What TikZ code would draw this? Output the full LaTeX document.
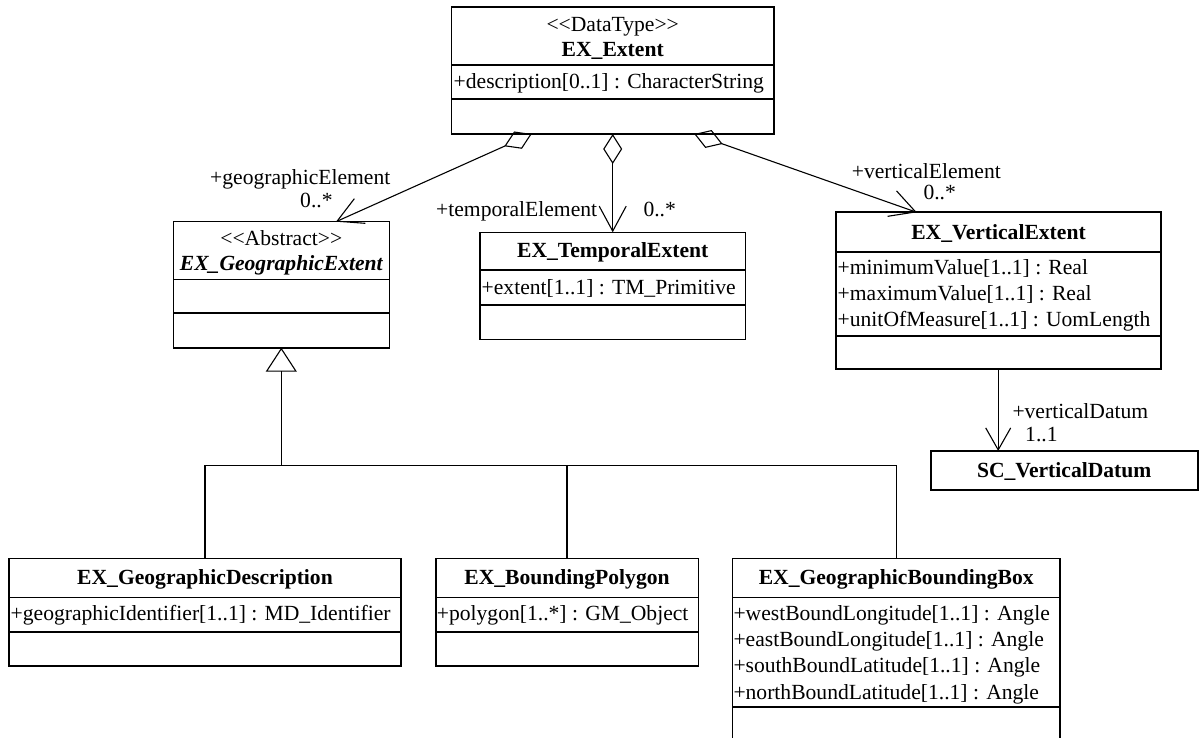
\documentclass[tikz,border=0pt]{standalone}
\usepackage{fontspec}
\setmainfont{Liberation Serif}
\usetikzlibrary{arrows.meta}
\newcommand{\lgl}{\textless\kern0pt\textless}
\newcommand{\rgr}{\textgreater\kern0pt\textgreater}
\begin{document}
\begin{tikzpicture}[x=1pt,y=-1pt,
  cls/.style={draw, line width=1.6pt, anchor=north west, inner sep=0pt, outer sep=0pt},
  dv/.style={line width=1.6pt},
  txt/.style={font=\fontsize{21.6}{26}\selectfont, inner sep=0pt, anchor=base},
  nm/.style={txt, font=\fontsize{21.6}{26}\selectfont\bfseries},
  att/.style={txt, anchor=base west},
  conn/.style={line width=1.1pt},
  agg/.style={conn, {Diamond[open,length=30pt,width=19pt]}-{Straight Barb[length=25pt,width=27pt]}},
  nav/.style={conn, -{Straight Barb[length=22pt,width=25pt]}},
  gen/.style={conn, -{Triangle[open,length=24pt,width=31pt]}},
]
\useasboundingbox (0,0) rectangle (1199,738);
\fill[white] (0,0) rectangle (1199,738);
\clip (0,0) rectangle (1199,738);

% ---------- EX_Extent ----------
\node[cls, minimum width=322.5pt, minimum height=127pt] (ext) at (451.5,7) {};
\draw[dv] (ext.west |- 0,65) -- (ext.east |- 0,65);
\draw[dv] (ext.west |- 0,99) -- (ext.east |- 0,99);
\node[txt] (extst) at (612.7,32) {\lgl DataType\rgr};
\node[nm] (extnm) at (612.7,56.7) {EX\_Extent};
\node[att] (exta1) at (453.5,89) {+description[0..1] : CharacterString};

% ---------- EX_GeographicExtent ----------
\node[cls, minimum width=216pt, minimum height=126pt] (geo) at (173.3,221.7) {};
\draw[dv] (geo.west |- 0,279.3) -- (geo.east |- 0,279.3);
\draw[dv] (geo.west |- 0,312.7) -- (geo.east |- 0,312.7);
\node[txt] (geost) at (281.3,245) {\lgl Abstract\rgr};
\node[nm, font=\fontsize{21.6}{26}\selectfont\bfseries\itshape] (geonm) at (281.3,270.7) {EX\_GeographicExtent};

% ---------- EX_TemporalExtent ----------
\node[cls, minimum width=265.5pt, minimum height=107pt] (tmp) at (480,232.3) {};
\draw[dv] (tmp.west |- 0,270) -- (tmp.east |- 0,270);
\draw[dv] (tmp.west |- 0,305) -- (tmp.east |- 0,305);
\node[nm] (tmpnm) at (612.7,257.7) {EX\_TemporalExtent};
\node[att] (tmpa1) at (481.5,294.5) {+extent[1..1] : TM\_Primitive};

% ---------- EX_VerticalExtent ----------
\node[cls, minimum width=325pt, minimum height=156.7pt] (ver) at (836,212.3) {};
\draw[dv] (ver.west |- 0,252) -- (ver.east |- 0,252);
\draw[dv] (ver.west |- 0,336) -- (ver.east |- 0,336);
\node[nm] (vernm) at (998.5,239.3) {EX\_VerticalExtent};
\node[att] (vera1) at (837.5,274) {+minimumValue[1..1] : Real};
\node[att] (vera2) at (837.5,300.3) {+maximumValue[1..1] : Real};
\node[att] (vera3) at (837.5,326.3) {+unitOfMeasure[1..1] : UomLength};

% ---------- SC_VerticalDatum ----------
\node[cls, minimum width=267pt, minimum height=39pt] (vd) at (930.7,451) {};
\node[nm] (vdnm) at (1064.2,477.3) {SC\_VerticalDatum};

% ---------- EX_GeographicDescription ----------
\node[cls, minimum width=392pt, minimum height=107.7pt] (gd) at (9,558.3) {};
\draw[dv] (gd.west |- 0,597.3) -- (gd.east |- 0,597.3);
\draw[dv] (gd.west |- 0,632) -- (gd.east |- 0,632);
\node[nm] (gdnm) at (205,584.8) {EX\_GeographicDescription};
\node[att] (gda1) at (10.5,620.3) {+geographicIdentifier[1..1] : MD\_Identifier};

% ---------- EX_BoundingPolygon ----------
\node[cls, minimum width=262.6pt, minimum height=107.7pt] (bp) at (435.7,558.3) {};
\draw[dv] (bp.west |- 0,597.3) -- (bp.east |- 0,597.3);
\draw[dv] (bp.west |- 0,632) -- (bp.east |- 0,632);
\node[nm] (bpnm) at (567,584.8) {EX\_BoundingPolygon};
\node[att] (bpa1) at (436.7,620.3) {+polygon[1..*] : GM\_Object};

% ---------- EX_GeographicBoundingBox ----------
\node[cls, minimum width=327.7pt, minimum height=200pt] (gbb) at (732.3,558.3) {};
\draw[dv] (gbb.west |- 0,597.3) -- (gbb.east |- 0,597.3);
\draw[dv] (gbb.west |- 0,706.7) -- (gbb.east |- 0,706.7);
\node[nm] (gbbnm) at (896.2,584.8) {EX\_GeographicBoundingBox};
\node[att] (gbba1) at (733.3,620.3) {+westBoundLongitude[1..1] : Angle};
\node[att] (gbba2) at (733.3,646.6) {+eastBoundLongitude[1..1] : Angle};
\node[att] (gbba3) at (733.3,672.9) {+southBoundLatitude[1..1] : Angle};
\node[att] (gbba4) at (733.3,699.2) {+northBoundLatitude[1..1] : Angle};

% ---------- aggregations ----------
\path (ext.south west) ++(80.2,0) coordinate (ag1s);
\path (geo.north west) ++(162.7,0) coordinate (ag1e);
\draw[agg] (ag1s) -- (ag1e);

\path (ext.south west) ++(161.2,0) coordinate (ag2s);
\path (tmp.north west) ++(132.7,0) coordinate (ag2e);
\draw[agg] (ag2s) -- (ag2e);

\path (ext.south west) ++(242.8,0) coordinate (ag3s);
\path (ver.north west) ++(80.7,0) coordinate (ag3e);
\draw[agg] (ag3s) -- (ag3e);

\path (ver.south west) ++(162.2,0) coordinate (vds);
\draw[nav] (vds) -- (vds |- vd.north);

% ---------- generalization ----------
\coordinate (j) at (281.3,465.7);
\draw[conn] (gd.north) -- (gd.north |- j) -- (gbb.north |- j) -- (gbb.north);
\draw[conn] (bp.north) -- (bp.north |- j);
\draw[gen] (j) -- (geo.south);

% ---------- role labels ----------
\node[att] (l1) at (210,185) {+geographicElement};
\node[att] (l1m) at (300,207.5) {0..*};
\node[att] (l2) at (436,216.7) {+temporalElement};
\node[att] (l2m) at (643.3,216.7) {0..*};
\node[att] (l3) at (851.7,178.3) {+verticalElement};
\node[att] (l3m) at (923.3,199.3) {0..*};
\node[att] (l4) at (1012.3,418.3) {+verticalDatum};
\node[att] (l4m) at (1025,441) {1..1};
\end{tikzpicture}
\end{document}
